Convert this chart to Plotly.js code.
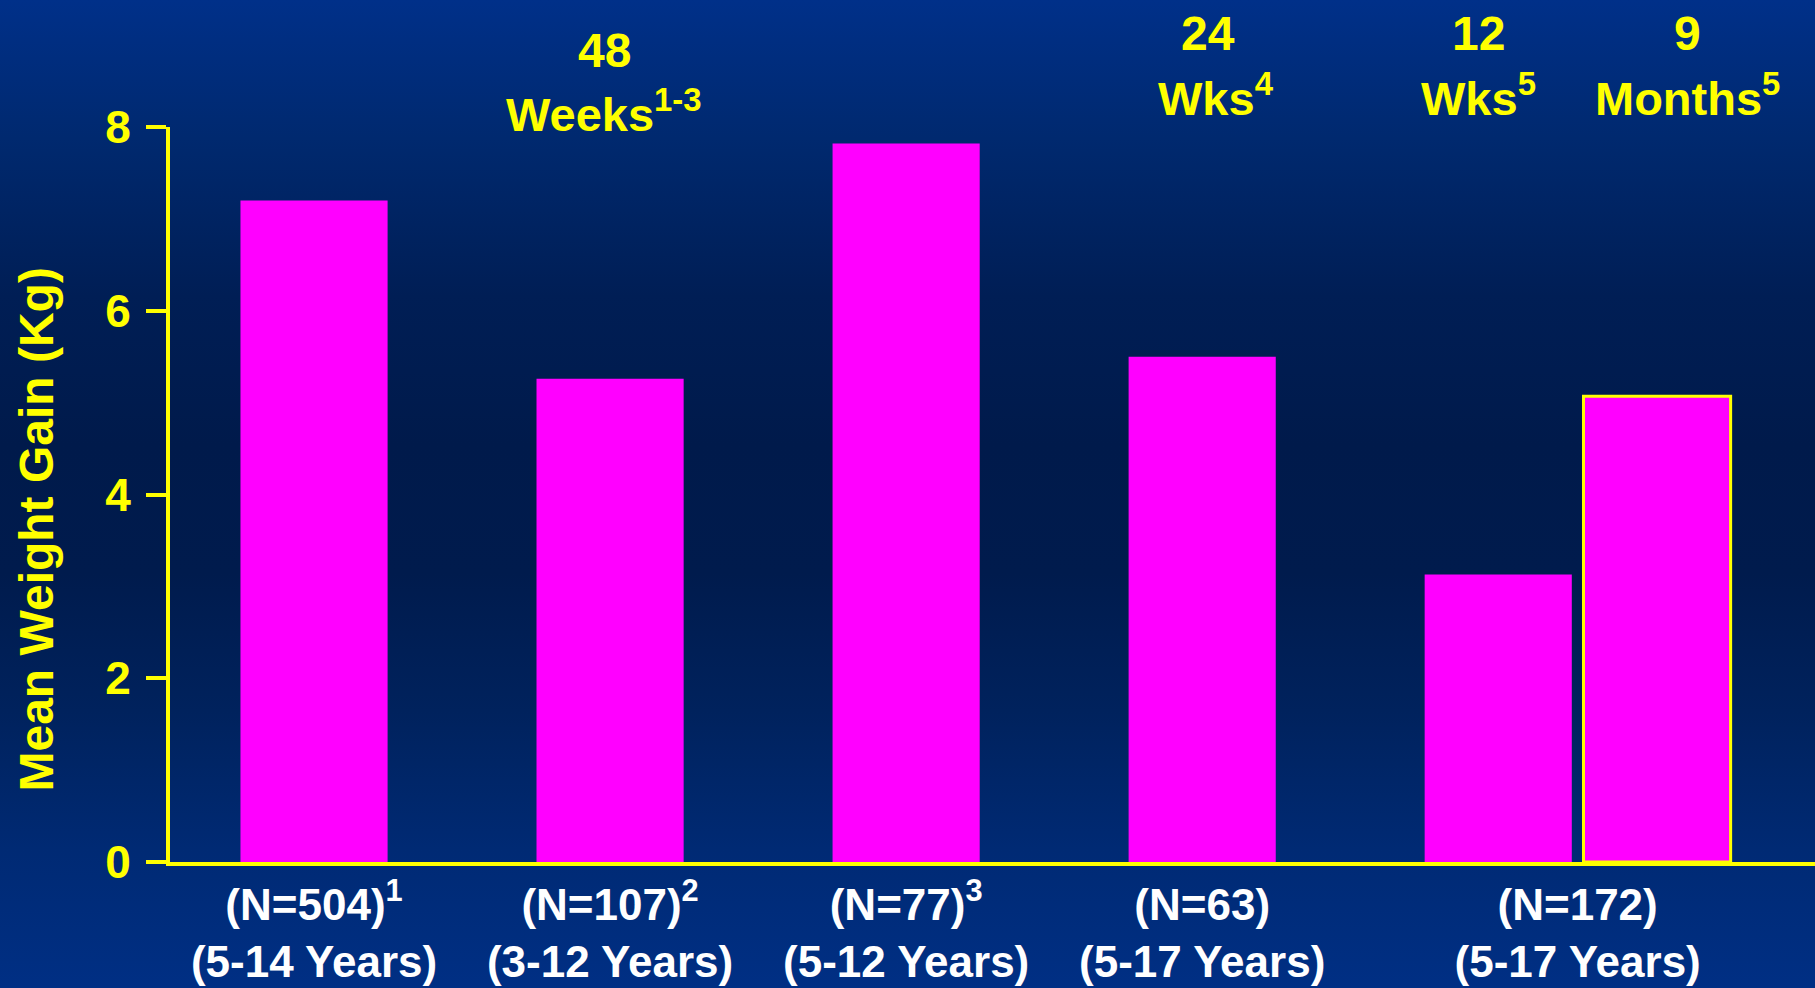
<!DOCTYPE html>
<html>
<head>
<meta charset="utf-8">
<script src="https://cdn.plot.ly/plotly-3.0.1.min.js"></script>
<style>
  html, body { margin: 0; padding: 0; width: 1815px; height: 988px; overflow: hidden; }
  body {
    background: linear-gradient(to bottom,
      #003089 0%, #00296f 14%, #001e55 30%, #001a4b 45%,
      #001b4d 58%, #00225d 72%, #002a74 86%, #002f84 100%);
  }
  #chart { width: 1815px; height: 988px; }
</style>
</head>
<body>
<div id="chart"></div>
<script>
// ---- data ----
const studyLabels = [
  "(N=504)<sup>1</sup><br>(5-14 Years)",
  "(N=107)<sup>2</sup><br>(3-12 Years)",
  "(N=77)<sup>3</sup><br>(5-12 Years)",
  "(N=63)<br>(5-17 Years)",
  "(N=172)<br>(5-17 Years)"
];
// mean weight gain (kg) at the primary follow-up of each study
const gainPrimary = [7.2, 5.26, 7.82, 5.5, 3.13];
// mean weight gain (kg) at the later 9-month follow-up (last study only)
const gainLater = [null, null, null, null, 5.07];
const durationNumbers = ["48", "24", "12", "9"];
const durationUnits = ["Weeks<sup>1-3</sup>", "Wks<sup>4</sup>", "Wks<sup>5</sup>", "Months<sup>5</sup>"];
const yTicks = [0, 2, 4, 6, 8];
const yTitle = "Mean Weight Gain (Kg)";

// ---- styling / layout ----
const YELLOW = "#FFFF00";
const MAGENTA = "#FF00FF";
const BAR_W = 0.497;
const LATER_OFFSET = 0.288;
const FONT = "Liberation Sans, Arial, Helvetica, sans-serif";

const idx = studyLabels.map((_, i) => i + 1);
const last = idx[idx.length - 1];
const laterCenter = last + LATER_OFFSET + BAR_W / 2;
const tickPositions = idx.map((v, i) => i === idx.length - 1 ? (v + laterCenter) / 2 : v);

const traces = [
  {
    type: "bar", x: idx, y: gainPrimary, width: BAR_W,
    marker: { color: MAGENTA, line: { width: 0 } },
    hoverinfo: "y", showlegend: false
  },
  {
    type: "bar", x: idx, y: gainLater, width: BAR_W, offset: LATER_OFFSET,
    marker: { color: MAGENTA, line: { color: YELLOW, width: 3 } },
    hoverinfo: "y", showlegend: false
  }
];

// positions (in x-axis units) of the duration labels
const durationX = [idx[1], idx[3], last, laterCenter];
const numShift = [-6, 6, -20, 30];
const unitShift = [-6, 14, -20, 30];
const numY = [1.104, 1.127, 1.127, 1.127];
const unitY = [1.022, 1.044, 1.044, 1.044];
const annotations = [];
durationNumbers.forEach((t, i) => {
  annotations.push({
    text: t, x: durationX[i], xref: "x", y: numY[i], yref: "paper",
    xanchor: "center", yanchor: "middle", xshift: numShift[i], showarrow: false,
    font: { family: FONT, size: 48, weight: "bold", color: YELLOW }
  });
  annotations.push({
    text: durationUnits[i], x: durationX[i], xref: "x", y: unitY[i], yref: "paper",
    xanchor: "center", yanchor: "middle", xshift: unitShift[i], showarrow: false,
    font: { family: FONT, size: 47, weight: "bold", color: YELLOW }
  });
});
// y-axis title (placed as a rotated annotation to sit where the original does)
annotations.push({
  text: yTitle, textangle: -90, xref: "paper", yref: "paper",
  x: -0.081, y: 0.452, xanchor: "center", yanchor: "middle", showarrow: false,
  font: { family: FONT, size: 48, weight: "bold", color: YELLOW }
});

const layout = {
  width: 1815, height: 988,
  margin: { l: 170, r: 0, t: 127, b: 126, pad: 0 },
  paper_bgcolor: "rgba(0,0,0,0)",
  plot_bgcolor: "rgba(0,0,0,0)",
  barmode: "overlay",
  xaxis: {
    type: "linear", range: [0.5135, 6.07], fixedrange: true,
    showgrid: false, zeroline: false,
    showline: true, linecolor: YELLOW, linewidth: 4,
    ticks: "", tickvals: tickPositions, ticktext: studyLabels,
    tickfont: { family: FONT, size: 44, weight: "bold", color: "#FFFFFF" },
    ticklabelstandoff: 1
  },
  yaxis: {
    range: [0, 8], fixedrange: true,
    showgrid: false, zeroline: false,
    showline: true, linecolor: YELLOW, linewidth: 4,
    ticks: "outside", ticklen: 20, tickwidth: 4, tickcolor: YELLOW,
    tickvals: yTicks, ticktext: yTicks.map(String),
    tickfont: { family: FONT, size: 46, weight: "bold", color: YELLOW },
    ticklabelstandoff: 6
  },
  annotations: annotations,
  showlegend: false
};

Plotly.newPlot("chart", traces, layout, { displayModeBar: false, staticPlot: true });
</script>
</body>
</html>
